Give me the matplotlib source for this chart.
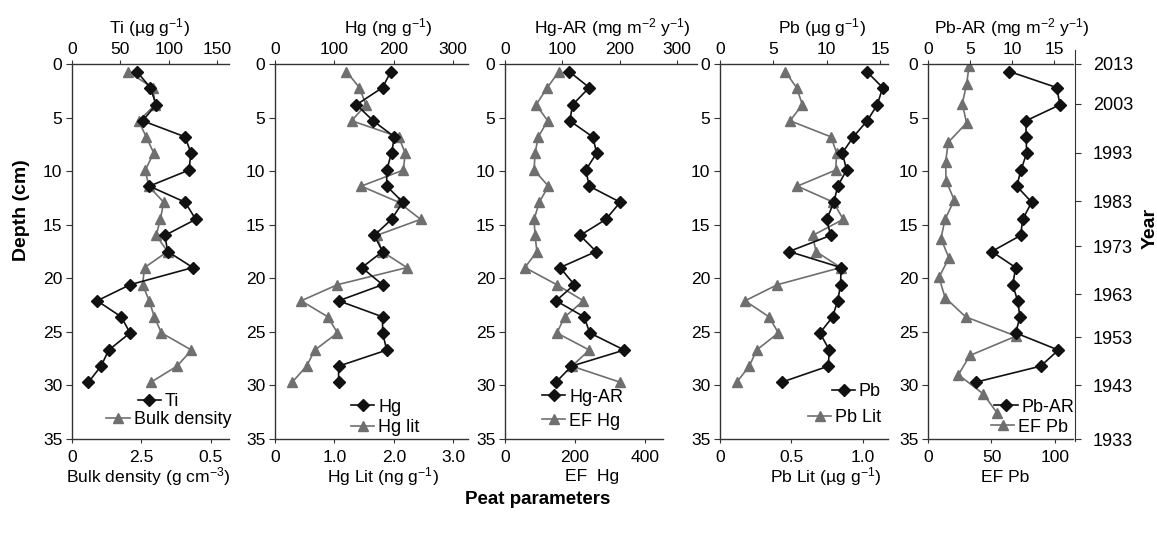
import matplotlib
matplotlib.use("Agg")
import matplotlib.pyplot as plt

plt.rcParams['font.family'] = ['Liberation Sans', 'DejaVu Sans']
plt.rcParams['mathtext.fontset'] = 'custom'
plt.rcParams['mathtext.rm'] = 'Liberation Sans'
plt.rcParams['mathtext.it'] = 'Liberation Sans:italic'
plt.rcParams['mathtext.bf'] = 'Liberation Sans:bold'

# ---------------- data ----------------
depth = [0.7, 2.2, 3.8, 5.3, 6.8, 8.3, 9.9, 11.4, 12.9, 14.5,
         16.0, 17.5, 19.0, 20.6, 22.1, 23.6, 25.1, 26.7, 28.2, 29.7]
depth_efpb = [0.2, 1.9, 3.7, 5.5, 7.3, 9.1, 10.9, 12.7, 14.5, 16.3,
              18.1, 19.9, 21.8, 23.6, 25.4, 27.2, 29.0, 30.8, 32.6]

ti = [67, 81, 87, 73, 117, 123, 121, 80, 117, 128, 96, 99, 125, 60, 26, 51, 60, 38, 30, 17]
bulk_density = [0.20, 0.29, 0.30, 0.24, 0.267, 0.294, 0.264, 0.276, 0.33, 0.318,
                0.303, 0.344, 0.261, 0.254, 0.278, 0.296, 0.322, 0.43, 0.378, 0.284]

hg = [195, 181, 137, 165, 201, 196, 188, 188, 215, 196, 167, 181, 146, 181, 107, 181, 181, 188, 107, 107]
hg_lit = [1.20, 1.42, 1.53, 1.29, 2.08, 2.19, 2.16, 1.45, 2.08, 2.45,
          1.71, 1.80, 2.22, 1.05, 0.44, 0.89, 1.05, 0.67, 0.53, 0.29]

hg_ar = [112, 147, 118, 113, 153, 160, 141, 147, 201, 176, 131, 159, 96, 121, 89, 138, 148, 208, 116, 89]
ef_hg = [154, 121, 89, 122, 95, 86, 83, 124, 98, 83, 86, 91, 57, 148, 224, 171, 148, 241, 191, 329]

pb = [13.75, 15.25, 14.75, 13.8, 12.5, 11.47, 11.87, 11.03, 10.68, 10.0,
      10.37, 6.47, 11.34, 11.31, 11.03, 10.56, 9.37, 10.25, 10.15, 5.78]
pb_lit = [0.455, 0.536, 0.576, 0.49, 0.776, 0.816, 0.809, 0.541, 0.793, 0.862,
          0.648, 0.671, 0.844, 0.401, 0.175, 0.343, 0.408, 0.256, 0.205, 0.117]

pb_ar = [9.68, 15.32, 15.71, 11.67, 11.67, 11.75, 11.07, 10.56, 12.34, 11.27,
         11.03, 7.58, 10.44, 10.08, 10.67, 10.95, 10.44, 15.52, 13.41, 5.67]
ef_pb = [32.3, 30.4, 27.0, 30.4, 16.0, 13.9, 14.2, 20.7, 13.4, 10.2,
         16.5, 8.7, 13.4, 29.7, 69.3, 33.1, 23.9, 43.6, 54.6]

depth_ticks = [0, 5, 10, 15, 20, 25, 30, 35]
years = ['2013', '2003', '1993', '1983', '1973', '1963', '1953', '1943', '1933']
year_depths = [0, 3.7, 8.3, 12.8, 17.0, 21.5, 25.5, 30.0, 35.0]

# ---------------- layout helpers ----------------
W, H = 1157, 534
fig = plt.figure(figsize=(W / 100, H / 100), dpi=100)
fig.patch.set_facecolor('white')

def fx(px):
    return px / W

def fy(py):
    return 1 - py / H

TOP, BOT = 64, 439
SPINE = '#333333'
BLACK = '#111111'
GREY = '#6f6f6f'
FS = 12.6

def make_panel(l, r, top_max, top_ticks, top_labels, bot_max, bot_ticks, bot_labels, bot_bound=None):
    ax = fig.add_axes([fx(l), fy(BOT), fx(r - l), (BOT - TOP) / H])
    ax.set_ylim(35, 0)
    ax.set_yticks(depth_ticks)
    ax.set_xlim(0, bot_max)
    ax.set_xticks(bot_ticks)
    ax.set_xticklabels(bot_labels)
    for s in ['top', 'right']:
        ax.spines[s].set_visible(False)
    for s in ['left', 'bottom']:
        ax.spines[s].set_color(SPINE)
        ax.spines[s].set_linewidth(1.0)
    if bot_bound is not None:
        ax.spines['bottom'].set_bounds(0, bot_bound)
    ax.tick_params(axis='x', direction='out', length=3, pad=5, labelsize=FS, color=SPINE)
    ax.tick_params(axis='y', direction='out', length=4, pad=3, labelsize=FS, color=SPINE)

    axt = ax.twiny()
    axt.set_xlim(0, top_max)
    axt.set_xticks(top_ticks)
    axt.set_xticklabels(top_labels)
    for s in ['left', 'right', 'bottom']:
        axt.spines[s].set_visible(False)
    axt.spines['top'].set_color(SPINE)
    axt.spines['top'].set_linewidth(1.0)
    axt.tick_params(axis='x', direction='out', length=3, pad=2, labelsize=FS, color=SPINE)
    return ax, axt

def plot_black(axt, x, y):
    ln, = axt.plot(x, y, color=BLACK, lw=1.2, marker='D', ms=5.8, mfc=BLACK, mec=BLACK, zorder=3)
    return ln

def plot_grey(ax, x, y):
    ln, = ax.plot(x, y, color=GREY, lw=1.2, marker='^', ms=7.5, mfc=GREY, mec=GREY, zorder=2)
    return ln

def entry(handle, label, x_px, y_px, loc):
    fig.legend(handles=[handle], labels=[label], loc=loc,
               bbox_to_anchor=(fx(x_px), fy(y_px)), bbox_transform=fig.transFigure,
               frameon=False, fontsize=FS + 0.4, handlelength=1.3, handletextpad=0.2,
               borderpad=0, borderaxespad=0, numpoints=1)

def label(text, x_px, y_px, **kw):
    fig.text(fx(x_px), fy(y_px), text, ha='center', va='center', fontsize=FS, **kw)

# ---------------- panel 1: Ti / bulk density ----------------
ax1, ax1t = make_panel(72, 229, 162.4, [0, 50, 100, 150], ['0', '50', '100', '150'],
                       0.565, [0, 0.25, 0.5], ['0', '2.5', '0.5'])
g1 = plot_grey(ax1, bulk_density, depth)
b1 = plot_black(ax1t, ti, depth)
entry(b1, 'Ti', 179, 402, 'center right')
entry(g1, 'Bulk density', 231, 420, 'center right')
label('Ti (µg g$^{-1}$)', 150, 28)
label('Bulk density (g cm$^{-3}$)', 148, 477)

# ---------------- panel 2: Hg / Hg lit ----------------
ax2, ax2t = make_panel(275, 468, 324.7, [0, 100, 200, 300], ['0', '100', '200', '300'],
                       3.247, [0, 1, 2, 3], ['0', '1.0', '2.0', '3.0'])
g2 = plot_grey(ax2, hg_lit, depth)
b2 = plot_black(ax2t, hg, depth)
entry(b2, 'Hg', 351, 407, 'center left')
entry(g2, 'Hg lit', 351, 428, 'center left')
label('Hg (ng g$^{-1}$)', 388, 28)
label('Hg Lit (ng g$^{-1}$)', 383, 477)

# ---------------- panel 3: Hg-AR / EF Hg ----------------
ax3, ax3t = make_panel(505, 697, 335, [0, 100, 200, 300], ['0', '100', '200', '300'],
                       548.6, [0, 200, 400], ['0', '200', '400'], bot_bound=451)
g3 = plot_grey(ax3, ef_hg, depth)
b3 = plot_black(ax3t, hg_ar, depth)
entry(b3, 'Hg-AR', 542, 397, 'center left')
entry(g3, 'EF Hg', 542, 421, 'center left')
label('Hg-AR (mg m$^{-2}$ y$^{-1}$)', 612, 28)
label('EF  Hg', 592, 477)

# ---------------- panel 4: Pb / Pb Lit ----------------
ax4, ax4t = make_panel(720, 888, 15.75, [0, 5, 10, 15], ['0', '5', '10', '15'],
                       1.175, [0, 0.5, 1.0], ['0', '0.5', '1.0'])
g4 = plot_grey(ax4, pb_lit, depth)
b4 = plot_black(ax4t, pb, depth)
entry(b4, 'Pb', 881, 392, 'center right')
entry(g4, 'Pb Lit', 881, 418, 'center right')
label('Pb (µg g$^{-1}$)', 822, 28)
label('Pb Lit (µg g$^{-1}$)', 826, 477)

# ---------------- panel 5: Pb-AR / EF Pb ----------------
ax5, ax5t = make_panel(928, 1073, 17.26, [0, 5, 10, 15], ['0', '5', '10', '15'],
                       114.2, [0, 50, 100], ['0', '50', '100'])
g5 = plot_grey(ax5, ef_pb, depth_efpb)
b5 = plot_black(ax5t, pb_ar, depth)
entry(b5, 'Pb-AR', 1074, 407, 'center right')
entry(g5, 'EF Pb', 1068, 427, 'center right')
label('Pb-AR (mg m$^{-2}$ y$^{-1}$)', 1012, 28)
label('EF Pb', 1005, 477)

# ---------------- year axis ----------------
px_per_cm = (BOT - TOP) / 35.0
y_top, y_bot = 50, 441
ay = fig.add_axes([fx(1000), fy(y_bot), fx(75), (y_bot - y_top) / H])
ay.patch.set_visible(False)
ay.set_ylim(35 + (y_bot - BOT) / px_per_cm, (y_top - TOP) / px_per_cm)
ay.set_xticks([])
for s in ['left', 'top', 'bottom']:
    ay.spines[s].set_visible(False)
ay.spines['right'].set_color(SPINE)
ay.yaxis.tick_right()
ay.set_yticks(year_depths)
ay.set_yticklabels(years)
ay.tick_params(axis='y', direction='out', length=4, pad=9, labelsize=FS + 0.4, color=SPINE)

# ---------------- overall labels ----------------
fig.text(fx(22), fy(210), 'Depth (cm)', rotation=90, ha='center', va='center',
         fontsize=14, fontweight='bold')
fig.text(fx(1150), fy(228), 'Year', rotation=90, ha='center', va='center',
         fontsize=14, fontweight='bold')
fig.text(fx(538), fy(500), 'Peat parameters', ha='center', va='center',
         fontsize=13.5, fontweight='bold')

fig.savefig('out.png', dpi=100, facecolor='white')
